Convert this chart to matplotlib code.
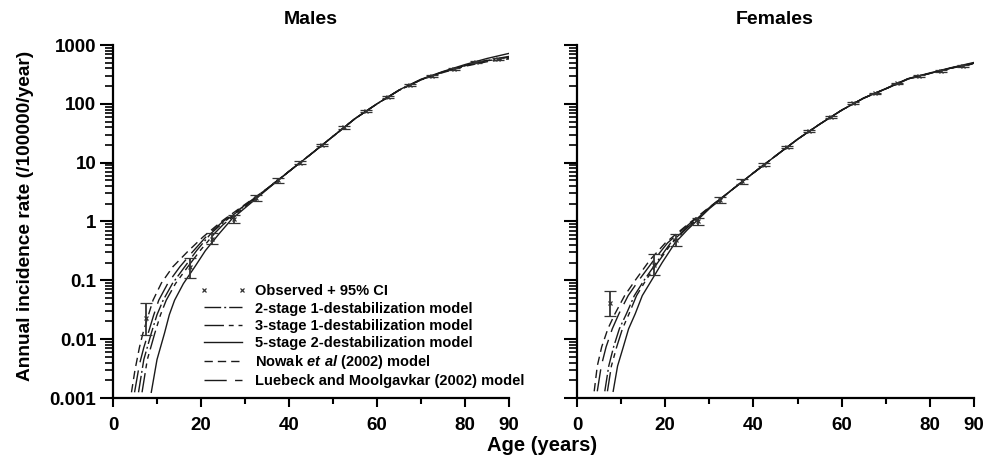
import numpy as np
import matplotlib.pyplot as plt
from matplotlib.lines import Line2D
from matplotlib.ticker import FixedLocator, FixedFormatter, LogLocator, NullFormatter

plt.rcParams['font.family'] = ['Liberation Sans', 'DejaVu Sans']
plt.rcParams['font.weight'] = 'bold'
plt.rcParams['mathtext.fontset'] = 'custom'
plt.rcParams['mathtext.bfit'] = 'Liberation Sans:italic:bold'

# observed rates (midpoints of 5-year age groups) with 95% CI
obs_age = [7.5, 17.5, 22.5, 27.5, 32.5, 37.5, 42.5, 47.5, 52.5, 57.5, 62.5, 67.5, 72.5, 77.5, 82.5, 87.5]
male_obs = [0.0228, 0.168, 0.50, 1.1, 2.5, 5.0, 10, 20, 40, 75, 131, 210, 295, 390, 510, 580]
male_lo = [0.0117, 0.11, 0.41, 0.95, 2.2, 4.6, 9.4, 19, 38, 72, 126, 203, 286, 378, 492, 555]
male_hi = [0.041, 0.24, 0.63, 1.28, 2.85, 5.5, 10.7, 21, 42, 78, 136, 217, 304, 402, 528, 605]
female_obs = [0.041, 0.18, 0.48, 1.0, 2.3, 4.8, 9.3, 18.5, 35, 60, 102, 150, 223, 296, 363, 445]
female_lo = [0.025, 0.125, 0.39, 0.87, 2.05, 4.4, 8.7, 17.6, 33.5, 57.5, 98, 145, 216, 287, 352, 430]
female_hi = [0.066, 0.28, 0.62, 1.14, 2.6, 5.25, 9.95, 19.5, 36.6, 62.6, 106, 155, 230, 305, 374, 461]

tail_age = [35, 40, 45, 50, 55, 60, 65, 70, 75, 80, 85, 90]

# males - model curves
m2_age = [5.8, 7, 8.7, 10, 11.4, 13.5, 16.3, 19, 22.3, 25, 30] + tail_age
m2 = [0.00125, 0.0045, 0.0126, 0.026, 0.046, 0.088, 0.17, 0.32, 0.63, 0.95, 1.85,
      3.6, 7.1, 14, 28, 56, 100, 170, 257, 347, 447, 545, 620]
m3_age = [6.6, 7.8, 9.5, 10.8, 12.1, 14.2, 17.0, 19.8, 23.1, 25, 30] + tail_age
m3 = [0.00125, 0.0045, 0.0126, 0.026, 0.046, 0.088, 0.17, 0.32, 0.63, 0.88, 1.8,
      3.6, 7.1, 14, 28, 56, 100, 170, 257, 347, 445, 540, 600]
m5_age = [8.7, 10, 11.7, 12.8, 14.0, 16, 18.6, 21, 24.2, 27, 30] + tail_age
m5 = [0.00125, 0.0045, 0.0126, 0.026, 0.046, 0.088, 0.17, 0.32, 0.63, 1.1, 1.7,
      3.5, 7.1, 14, 28, 56, 100, 172, 262, 355, 465, 590, 720]
mnw_age = [4.2, 5, 6, 6.8, 8, 9.1, 11, 13.6, 17, 20.5, 25, 30] + tail_age
mnw = [0.00125, 0.003, 0.0072, 0.0126, 0.025, 0.046, 0.09, 0.17, 0.31, 0.55, 1.05, 1.95,
       3.6, 7.1, 14, 28, 56, 100, 170, 255, 340, 435, 520, 580]
mlm_age = [4.9, 6, 7, 8, 9.2, 10.4, 12.5, 15.2, 18, 21.6, 25, 30] + tail_age
mlm = [0.00125, 0.0037, 0.0072, 0.0126, 0.025, 0.046, 0.09, 0.17, 0.3, 0.6, 1.0, 1.9,
       3.6, 7.1, 14, 28, 56, 100, 170, 258, 350, 450, 550, 640]

# females - model curves
f2_age = [6.3, 7.2, 8.3, 9.6, 11.2, 13, 15.2, 18, 21.2, 25, 30] + tail_age
f2 = [0.0013, 0.0035, 0.0074, 0.015, 0.027, 0.055, 0.1, 0.2, 0.43, 0.8, 1.7,
      3.4, 6.7, 13, 25, 45, 78, 125, 180, 265, 330, 410, 490]
f3_age = [6.9, 7.8, 9.0, 10.3, 11.8, 13.5, 15.6, 18.3, 21.5, 25, 30] + tail_age
f3 = [0.0013, 0.0035, 0.0074, 0.015, 0.027, 0.055, 0.1, 0.2, 0.43, 0.78, 1.68,
      3.4, 6.7, 13, 25, 45, 78, 125, 180, 265, 330, 408, 485]
f5_age = [8.2, 9.2, 10.5, 11.7, 13.2, 14.8, 16.9, 19.3, 22.2, 25, 30] + tail_age
f5 = [0.0013, 0.0035, 0.0074, 0.015, 0.027, 0.055, 0.1, 0.2, 0.43, 0.72, 1.65,
      3.4, 6.7, 13, 25, 45, 78, 126, 182, 268, 335, 415, 505]
fnw_age = [3.9, 4.6, 5.6, 7, 8.6, 10.8, 13.2, 16.5, 20.0, 25, 30] + tail_age
fnw = [0.0013, 0.0035, 0.0074, 0.015, 0.027, 0.055, 0.1, 0.22, 0.43, 0.88, 1.75,
       3.4, 6.7, 13, 25, 45, 78, 125, 180, 262, 328, 405, 480]
flm_age = [4.6, 5.5, 6.6, 8, 9.5, 11.6, 14.0, 17.2, 20.5, 25, 30] + tail_age
flm = [0.0013, 0.0035, 0.0074, 0.015, 0.027, 0.055, 0.1, 0.21, 0.43, 0.85, 1.72,
       3.4, 6.7, 13, 25, 45, 78, 125, 180, 265, 330, 410, 495]

labels = ['Observed + 95% CI', '2-stage 1-destabilization model', '3-stage 1-destabilization model',
          '5-stage 2-destabilization model', r'Nowak $\mathbfit{et\ al}$ (2002) model',
          'Luebeck and Moolgavkar (2002) model']

ink = '#1a1a1a'
styles = [
    dict(linestyle=(0, (12, 2.2, 1.4, 2.2))),
    dict(linestyle=(0, (14, 3.5, 3.5, 3.5, 3.5, 3.5))),
    dict(linestyle='-'),
    dict(linestyle=(0, (6, 3.6))),
    dict(linestyle=(0, (16, 6))),
]

fig = plt.figure(figsize=(9.85, 4.65), dpi=100)
axL = fig.add_axes([113 / 985, 67 / 465, 396 / 985, 353 / 465])
axR = fig.add_axes([577 / 985, 67 / 465, 397 / 985, 353 / 465])

panels = [
    (axL, male_obs, male_lo, male_hi, [(m2_age, m2), (m3_age, m3), (m5_age, m5), (mnw_age, mnw), (mlm_age, mlm)]),
    (axR, female_obs, female_lo, female_hi, [(f2_age, f2), (f3_age, f3), (f5_age, f5), (fnw_age, fnw), (flm_age, flm)]),
]

for ax, obs, lo, hi, curves in panels:
    for (a, v), st in zip(curves, styles):
        ax.plot(a, v, color=ink, lw=1.0, **st)
    obs = np.array(obs)
    yerr = [obs - np.array(lo), np.array(hi) - obs]
    ax.errorbar(obs_age, obs, yerr=yerr, fmt='x', ms=3.5, mew=0.9, color='#333333',
                ecolor='#333333', elinewidth=1.3, capsize=4, capthick=1.3)
    ax.set_yscale('log')
    ax.set_xlim(0, 90)
    ax.set_ylim(0.001, 1000)
    ax.xaxis.set_major_locator(FixedLocator([0, 20, 40, 60, 80, 90]))
    ax.xaxis.set_minor_locator(FixedLocator([10, 30, 50, 70]))
    ax.yaxis.set_major_locator(FixedLocator([0.001, 0.01, 0.1, 1, 10, 100, 1000]))
    ax.yaxis.set_minor_locator(LogLocator(base=10, subs=np.arange(2, 10)))
    ax.yaxis.set_minor_formatter(NullFormatter())
    for s in ['top', 'right']:
        ax.spines[s].set_visible(False)
    for s in ['left', 'bottom']:
        ax.spines[s].set_linewidth(1.6)
    ax.tick_params(axis='x', which='major', length=6.5, width=1.5, labelsize=13.5, pad=7)
    ax.tick_params(axis='x', which='minor', length=4.3, width=1.5)
    ax.tick_params(axis='y', which='major', length=9.4, width=1.5, labelsize=13.5, pad=2.5)
    ax.tick_params(axis='y', which='minor', length=5.8, width=1.2)

axL.yaxis.set_major_formatter(FixedFormatter(['0.001', '0.01', '0.1', '1', '10', '100', '1000']))
axR.yaxis.set_major_formatter(NullFormatter())

handles = [Line2D([], [], color='#333333', marker='x', ms=3.5, mew=0.9, linestyle='none')]
for st in styles:
    handles.append(Line2D([], [], color=ink, lw=1.0, **st))
axL.legend(handles, labels, loc='upper left', bbox_to_anchor=(0.2197, 0.322), frameon=False,
           borderpad=0, borderaxespad=0, numpoints=2, handlelength=3.2, handletextpad=0.55,
           labelspacing=0.22, prop={'size': 10.5, 'weight': 'bold'})

fig.text(311 / 985, 0.957, 'Males', ha='center', va='center', fontsize=14, fontweight='bold')
fig.text(775 / 985, 0.957, 'Females', ha='center', va='center', fontsize=14, fontweight='bold')
fig.text(0.55, 0.043, 'Age (years)', ha='center', va='center', fontsize=14.5, fontweight='bold')
fig.text(0.026, 0.535, 'Annual incidence rate (/100000/year)', ha='center', va='center',
         rotation=90, fontsize=13.8, fontweight='bold')

fig.savefig('out.png', dpi=100)
